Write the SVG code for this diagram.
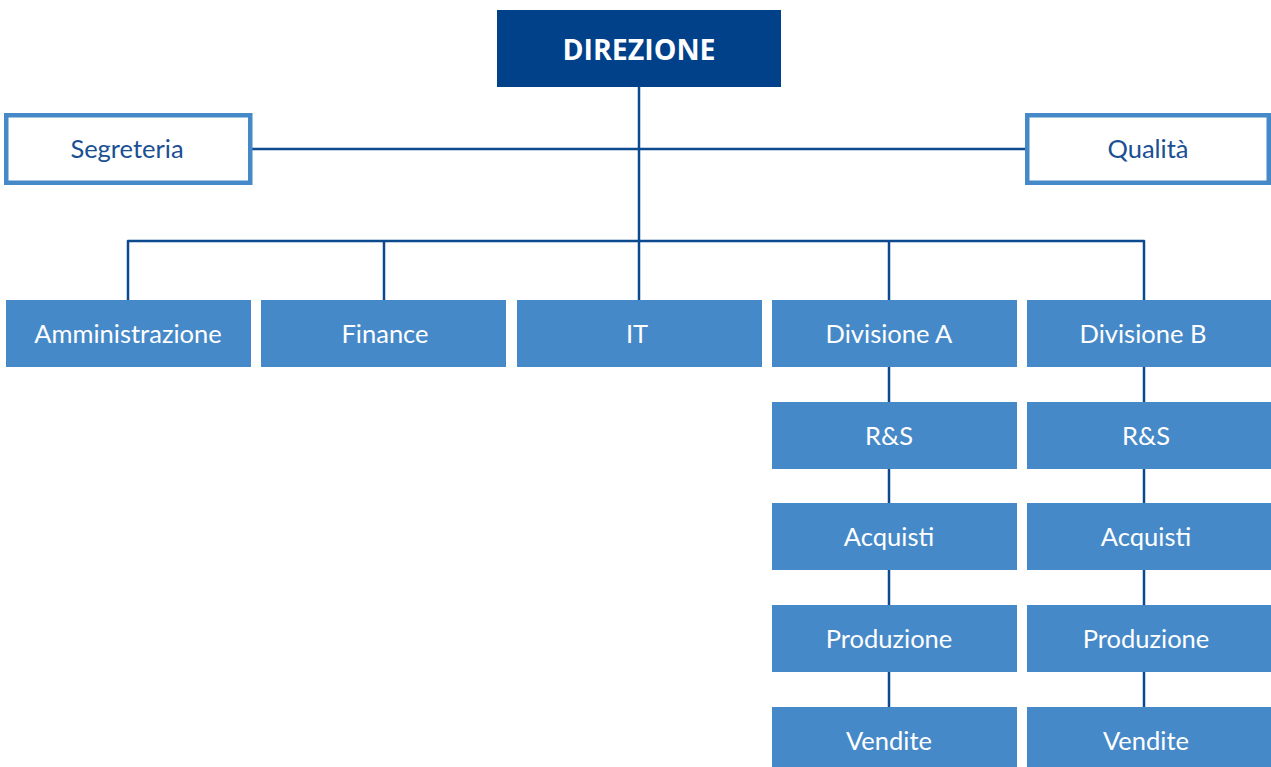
<svg xmlns="http://www.w3.org/2000/svg" width="1271" height="767" viewBox="0 0 1271 767">
  <style>
    .line { fill: none; stroke: #0B4A8F; stroke-width: 2.5; stroke-linejoin: round; }
    .box { fill: #4689C8; }
    .staff { fill: #FFFFFF; stroke: #4689C8; stroke-width: 4.5; }
    .lbl { font-family: Lato, "Open Sans", "Liberation Sans", sans-serif; font-size: 25.5px; fill: #FFFFFF; text-anchor: middle; }
    .staff-lbl { fill: #1A4F93; }
    .head-lbl { font-family: "Open Sans", "Liberation Sans", sans-serif; font-size: 28.5px; font-weight: bold; fill: #FFFFFF; text-anchor: middle; }
  </style>

  <!-- connectors -->
  <g id="connectors">
    <path class="line" d="M639 87 V241"/>
    <path class="line" d="M252 149 H1025"/>
    <path class="line" d="M128 300 V241 H1144 V300"/>
    <path class="line" d="M384 241 V300"/>
    <path class="line" d="M639 241 V300"/>
    <path class="line" d="M889 241 V300"/>
    <path class="line" d="M889 367 V707"/>
    <path class="line" d="M1144 367 V707"/>
  </g>

  <!-- top management -->
  <g id="direzione">
    <rect x="497" y="10" width="284" height="77" fill="#00418A"/>
    <text class="head-lbl" x="639" y="59.5">DIREZIONE</text>
  </g>

  <!-- staff units -->
  <g id="segreteria">
    <rect class="staff" x="6.25" y="115.25" width="244" height="67.5"/>
    <text class="lbl staff-lbl" x="127" y="158">Segreteria</text>
  </g>
  <g id="qualita">
    <rect class="staff" x="1027.25" y="115.25" width="241.5" height="67.5"/>
    <text class="lbl staff-lbl" x="1148" y="158">Qualità</text>
  </g>

  <!-- line departments -->
  <g id="amministrazione">
    <rect class="box" x="6" y="300" width="245" height="67"/>
    <text class="lbl" x="128" y="343">Amministrazione</text>
  </g>
  <g id="finance">
    <rect class="box" x="261" y="300" width="245" height="67"/>
    <text class="lbl" x="385" y="343">Finance</text>
  </g>
  <g id="it">
    <rect class="box" x="517" y="300" width="245" height="67"/>
    <text class="lbl" x="637" y="343">IT</text>
  </g>
  <g id="divisione-a">
    <rect class="box" x="772" y="300" width="245" height="67"/>
    <text class="lbl" x="889" y="343">Divisione A</text>
  </g>
  <g id="divisione-b">
    <rect class="box" x="1027" y="300" width="244" height="67"/>
    <text class="lbl" x="1143" y="343">Divisione B</text>
  </g>

  <!-- Divisione A functions -->
  <g id="a-rs">
    <rect class="box" x="772" y="402" width="245" height="67"/>
    <text class="lbl" x="889" y="445">R&amp;S</text>
  </g>
  <g id="a-acquisti">
    <rect class="box" x="772" y="503" width="245" height="67"/>
    <text class="lbl" x="889" y="546">Acquisti</text>
  </g>
  <g id="a-produzione">
    <rect class="box" x="772" y="605" width="245" height="67"/>
    <text class="lbl" x="889" y="648">Produzione</text>
  </g>
  <g id="a-vendite">
    <rect class="box" x="772" y="707" width="245" height="60"/>
    <text class="lbl" x="889" y="750">Vendite</text>
  </g>

  <!-- Divisione B functions -->
  <g id="b-rs">
    <rect class="box" x="1027" y="402" width="244" height="67"/>
    <text class="lbl" x="1146" y="445">R&amp;S</text>
  </g>
  <g id="b-acquisti">
    <rect class="box" x="1027" y="503" width="244" height="67"/>
    <text class="lbl" x="1146" y="546">Acquisti</text>
  </g>
  <g id="b-produzione">
    <rect class="box" x="1027" y="605" width="244" height="67"/>
    <text class="lbl" x="1146" y="648">Produzione</text>
  </g>
  <g id="b-vendite">
    <rect class="box" x="1027" y="707" width="244" height="60"/>
    <text class="lbl" x="1146" y="750">Vendite</text>
  </g>
</svg>
